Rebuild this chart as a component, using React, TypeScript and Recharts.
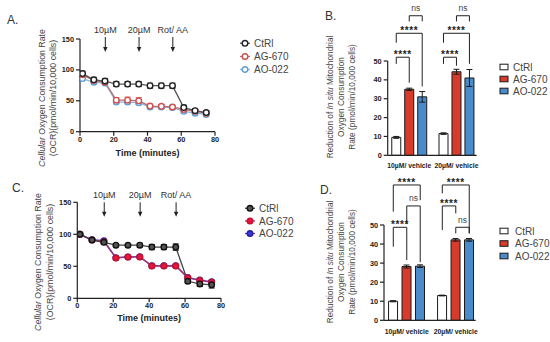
import React from "react";
import {
  LineChart,
  Line,
  BarChart,
  Bar,
  Cell,
  XAxis,
  YAxis,
  ErrorBar,
  ReferenceLine,
  ReferenceDot,
} from "recharts";

const FONT = "'Liberation Sans', Arial, sans-serif";

// ---- time course (A, C) ----
const times = [1.5, 8.2, 14.8, 21.5, 28.2, 34.8, 41.5, 48.2, 54.8, 61.5, 68.2, 74.8];
const seriesNames = ["CtRl", "AG-670", "AO-022"];

const aCtrl = [94, 84, 82, 77, 77, 77, 74.5, 74.5, 74.5, 39, 34, 31];
const aCtrlErr = [4, 4, 4, 4, 4, 4, 4, 4, 4, 4, 3, 3];
const aAg = [92, 83, 80, 51, 51, 50, 41.5, 41, 40, 36, 33, 30];
const aAgErr = [3, 3, 3, 4, 5, 5, 3, 3, 3, 3, 3, 3];
const aAo = [86, 80, 79, 48, 48, 47, 40, 40, 39, 33, 30, 28];
const aAoErr = [3, 3, 3, 3, 3, 3, 3, 3, 3, 3, 3, 3];

const cCtrl = [100, 91, 87.5, 83, 83, 83, 80, 80, 80, 26.6, 22.5, 21];
const cCtrlErr = [2, 2, 2, 2, 2, 3, 4, 4, 5, 3, 4, 5];
const cAg = [100, 91, 88.5, 63, 64.6, 64.6, 50.5, 50.5, 50.5, 32, 28, 25];
const cAgErr = [1.5, 1.5, 2, 2, 1.5, 1.5, 3, 2, 2, 2, 2, 2];
const cAo = [100, 91.5, 90, 63.5, 64.5, 65, 51, 51, 51, 32.5, 28.5, 26];
const cAoErr = [1.5, 1.5, 2, 2, 1.5, 1.5, 2, 2, 2, 2, 2, 2];

const injections = ["10µM", "20µM", "Rot/ AA"];
const injectionTimes = [15, 35, 55];

// ---- bar panels (B, D) ----
const groups = ["10µM/ vehicle", "20µM/ vehicle"];
const bCtrl = [9.5, 11.5];
const bCtrlErr = [0.5, 0.4];
const bAg = [35, 44.3];
const bAgErr = [0.6, 1.3];
const bAo = [31, 41];
const bAoErr = [2.8, 4.5];

const dCtrl = [10, 13];
const dCtrlErr = [0.3, 0.2];
const dAg = [28.2, 42.2];
const dAgErr = [0.8, 0.7];
const dAo = [28.4, 42.2];
const dAoErr = [0.7, 0.7];

// significance brackets: group, from series a to b, heights in axis units
const bBrackets = [
  { g: 0, a: 0, b: 1, y: 52, la: 48.5, lb: 38.5, t: "****" },
  { g: 0, a: 0, b: 2, y: 64.7, la: 59.7, lb: 36.5, t: "****" },
  { g: 0, a: 1, b: 2, y: 74, la: 71, lb: 71, t: "ns" },
  { g: 1, a: 0, b: 1, y: 52, la: 48.5, lb: 47.5, t: "****" },
  { g: 1, a: 0, b: 2, y: 64.7, la: 59.7, lb: 48.5, t: "****" },
  { g: 1, a: 1, b: 2, y: 74, la: 71, lb: 71, t: "ns" },
];
const dBrackets = [
  { g: 0, a: 0, b: 1, y: 48.8, la: 38.6, lb: 31.6, t: "****" },
  { g: 0, a: 1, b: 2, y: 60, la: 50.5, lb: 30.5, t: "ns" },
  { g: 0, a: 0, b: 2, y: 71, la: 57, lb: 63, t: "****" },
  { g: 1, a: 0, b: 2, y: 71, la: 66.6, lb: 45.6, t: "****" },
  { g: 1, a: 0, b: 1, y: 60, la: 47.4, lb: 56.1, t: "****" },
  { g: 1, a: 1, b: 2, y: 48.8, la: 45.6, lb: 45.6, t: "ns" },
];

const GROUP_STEP = 3.64;
const barColors = ["#ffffff", "#d63b2c", "#4a8ccb"];

const buildTime = (ctrl: number[], ce: number[], ag: number[], ge: number[], ao: number[], oe: number[]) =>
  times.map((t, i) => ({ t, ctrl: ctrl[i], ce: ce[i], ag: ag[i], ge: ge[i], ao: ao[i], oe: oe[i] }));

const buildBars = (vals: number[][], errs: number[][]) => {
  const rows: { x: number; v: number; e: number; s: number }[] = [];
  groups.forEach((_, g) => {
    vals.forEach((sv, s) => rows.push({ x: g * GROUP_STEP + s, v: sv[g], e: errs[s][g], s }));
  });
  return rows;
};

const aRows = buildTime(aCtrl, aCtrlErr, aAg, aAgErr, aAo, aAoErr);
const cRows = buildTime(cCtrl, cCtrlErr, cAg, cAgErr, cAo, cAoErr);
const bRows = buildBars([bCtrl, bAg, bAo], [bCtrlErr, bAgErr, bAoErr]);
const dRows = buildBars([dCtrl, dAg, dAo], [dCtrlErr, dAgErr, dAoErr]);

const tickStyle = { fill: "#222", fontSize: 7.3, fontWeight: 700, fontFamily: FONT };

const InjectionMark = ({ cx, cy, label, textDy, start, tip }: any) => (
  <g>
    <text x={cx} y={cy + textDy} textAnchor="middle" fontSize={9} fill="#333" fontFamily={FONT}>
      {label}
    </text>
    <line x1={cx} y1={cy + start} x2={cx} y2={cy + tip - 3} stroke="#222" strokeWidth={1} />
    <path d={`M${cx - 2.2},${cy + tip - 5} L${cx + 2.2},${cy + tip - 5} L${cx},${cy + tip} Z`} fill="#222" />
  </g>
);

type LineStyle = { line: string; mark: string; fill: string; opacity: number };

const TimeCourse = ({
  rows,
  width,
  height,
  margin,
  xHeight,
  titleOffset,
  styles,
  arrow,
}: {
  rows: any[];
  width: number;
  height: number;
  margin: any;
  xHeight: number;
  titleOffset: number;
  styles: LineStyle[];
  arrow: { textDy: number; start: number; tip: number };
}) => {
  const keys = [
    { k: "ao", e: "oe", st: styles[2] },
    { k: "ag", e: "ge", st: styles[1] },
    { k: "ctrl", e: "ce", st: styles[0] },
  ];
  return (
    <LineChart width={width} height={height} data={rows} margin={margin}>
      <XAxis
        type="number"
        dataKey="t"
        domain={[0, 80]}
        ticks={[0, 20, 40, 60, 80]}
        allowDataOverflow
        height={xHeight}
        tick={tickStyle}
        tickSize={4}
        tickMargin={1}
        stroke="#222"
        strokeWidth={1.2}
        label={{
          value: "Time (minutes)",
          position: "insideBottom",
          offset: titleOffset,
          style: { fill: "#222", fontSize: 9, fontWeight: 700, fontFamily: FONT },
        }}
      />
      <YAxis
        domain={[0, 150]}
        ticks={[0, 50, 100, 150]}
        allowDataOverflow
        width={20}
        tick={tickStyle}
        tickSize={4}
        tickMargin={2}
        stroke="#222"
        strokeWidth={1.2}
      />
      {keys.map(({ k, e, st }) => (
        <Line
          key={k}
          dataKey={k}
          stroke={st.line}
          strokeOpacity={st.opacity}
          strokeWidth={1.3}
          dot={{ r: 2.8, fill: st.fill, stroke: st.mark, strokeWidth: 1.4 }}
          isAnimationActive={false}
        >
          <ErrorBar dataKey={e} direction="y" width={3} stroke={st.mark} strokeWidth={1} />
        </Line>
      ))}
      {injections.map((label, i) => (
        <ReferenceDot
          key={label}
          x={injectionTimes[i]}
          y={150}
          ifOverflow="visible"
          shape={(p: any) => <InjectionMark {...p} label={label} {...arrow} />}
        />
      ))}
    </LineChart>
  );
};

const BracketText = ({ cx, cy, t }: any) =>
  t === "ns" ? (
    <text x={cx} y={cy - 4.6} textAnchor="middle" fontSize={8.5} fill="#444" fontFamily={FONT}>
      ns
    </text>
  ) : (
    <text x={cx} y={cy + 1} textAnchor="middle" fontSize={10} fontWeight={700} fill="#222" fontFamily={FONT} letterSpacing={0.6}>
      {t}
    </text>
  );

const GroupTick = ({ x, y, index, dy }: any) => (
  <text x={x} y={y + dy} textAnchor="middle" fontSize={6.8} fontWeight={700} fill="#222" fontFamily={FONT}>
    {groups[index]}
  </text>
);

const BarPanel = ({
  rows,
  brackets,
  width,
  height,
  margin,
  xHeight,
  domain,
  labelDy,
}: {
  rows: any[];
  brackets: typeof bBrackets;
  width: number;
  height: number;
  margin: any;
  xHeight: number;
  domain: number[];
  labelDy: number;
}) => (
  <BarChart width={width} height={height} data={rows} margin={margin}>
    <XAxis
      type="number"
      dataKey="x"
      domain={domain}
      allowDataOverflow
      ticks={[1, 1 + GROUP_STEP]}
      interval={0}
      height={xHeight}
      tick={(p: any) => <GroupTick {...p} dy={labelDy} />}
      tickSize={0}
      stroke="#222"
      strokeWidth={1.2}
    />
    <YAxis
      domain={[0, 50]}
      ticks={[0, 10, 20, 30, 40, 50]}
      allowDataOverflow
      width={20}
      tick={tickStyle}
      tickSize={4}
      tickMargin={2}
      stroke="#222"
      strokeWidth={1.2}
    />
    <Bar dataKey="v" barSize={9} stroke="#1a1a1a" strokeWidth={1} isAnimationActive={false}>
      {rows.map((r, i) => (
        <Cell key={i} fill={barColors[r.s]} />
      ))}
      <ErrorBar dataKey="e" direction="y" width={3} stroke="#1a1a1a" strokeWidth={1} />
    </Bar>
    {brackets.map((br, i) => {
      const xa = br.g * GROUP_STEP + br.a;
      const xb = br.g * GROUP_STEP + br.b;
      const seg = { stroke: "#222", strokeWidth: 1, ifOverflow: "visible" as const };
      return (
        <React.Fragment key={i}>
          <ReferenceLine segment={[{ x: xa, y: br.y }, { x: xb, y: br.y }]} {...seg} />
          <ReferenceLine segment={[{ x: xa, y: br.y }, { x: xa, y: br.la }]} {...seg} />
          <ReferenceLine segment={[{ x: xb, y: br.y }, { x: xb, y: br.lb }]} {...seg} />
          <ReferenceDot
            x={(xa + xb) / 2}
            y={br.y}
            ifOverflow="visible"
            shape={(p: any) => <BracketText {...p} t={br.t} />}
          />
        </React.Fragment>
      );
    })}
  </BarChart>
);

const RotLabel = ({ x, y, lines, size }: { x: number[]; y: number; lines: React.ReactNode[]; size: number }) => (
  <>
    {lines.map((ln, i) => (
      <text
        key={i}
        transform={`translate(${x[i]},${y}) rotate(-90)`}
        textAnchor="middle"
        fontSize={size}
        fill="#444"
        fontFamily={FONT}
      >
        {ln}
      </text>
    ))}
  </>
);

const LineLegend = ({ x, ys, styles }: { x: number; ys: number[]; styles: LineStyle[] }) => (
  <>
    {seriesNames.map((n, i) => (
      <g key={n}>
        <line x1={x} x2={x + 10} y1={ys[i]} y2={ys[i]} stroke={styles[i].line} strokeWidth={1.3} />
        <circle cx={x + 5} cy={ys[i]} r={2.8} fill={styles[i].fill} stroke={styles[i].mark} strokeWidth={1.4} />
        <text x={x + 14} y={ys[i] + 3.5} fontSize={10} fill="#444" fontFamily={FONT}>
          {n}
        </text>
      </g>
    ))}
  </>
);

const BarLegend = ({ x, ys, tx }: { x: number; ys: number[]; tx: number }) => (
  <>
    {seriesNames.map((n, i) => (
      <g key={n}>
        <rect x={x} y={ys[i] - 2.8} width={8} height={5.6} fill={barColors[i]} stroke="#1a1a1a" strokeWidth={1} />
        <text x={tx} y={ys[i] + 3.5} fontSize={10} fill="#444" fontFamily={FONT}>
          {n}
        </text>
      </g>
    ))}
  </>
);

const aStyles: LineStyle[] = [
  { line: "#555", mark: "#222", fill: "#ffffff", opacity: 1 },
  { line: "#b86a6a", mark: "#d0524f", fill: "#ffffff", opacity: 1 },
  { line: "#8db6dc", mark: "#5f9fd6", fill: "#ffffff", opacity: 1 },
];
const cStyles: LineStyle[] = [
  { line: "#444", mark: "#111", fill: "#555", opacity: 1 },
  { line: "#a0307e", mark: "#c8102e", fill: "#e8173a", opacity: 1 },
  { line: "#6a3aa8", mark: "#22229a", fill: "#3a3ad8", opacity: 1 },
];

const abs = (left: number, top: number): React.CSSProperties => ({ position: "absolute", left, top });

export default function App() {
  return (
    <div style={{ position: "absolute", left: 0, top: 0, width: 550, height: 342, background: "#fff", overflow: "hidden" }}>
      <div style={abs(0, 0)}>
        <TimeCourse
          rows={aRows}
          width={280}
          height={175}
          margin={{ top: 39, right: 65, bottom: 0, left: 60 }}
          xHeight={43.3}
          titleOffset={19}
          styles={aStyles}
          arrow={{ textDy: -6, start: -2, tip: 13 }}
        />
      </div>
      <div style={abs(0, 170)}>
        <TimeCourse
          rows={cRows}
          width={280}
          height={172}
          margin={{ top: 32.3, right: 59, bottom: 0, left: 57.3 }}
          xHeight={43.7}
          titleOffset={21.4}
          styles={cStyles}
          arrow={{ textDy: -4.3, start: 0, tip: 14.5 }}
        />
      </div>
      <div style={abs(280, 0)}>
        <BarPanel
          rows={bRows}
          brackets={bBrackets}
          width={270}
          height={175}
          margin={{ top: 61, right: 73.3, bottom: 0, left: 87.7 }}
          xHeight={19.7}
          domain={[-0.66, 6.2]}
          labelDy={11}
        />
      </div>
      <div style={abs(280, 170)}>
        <BarPanel
          rows={dRows}
          brackets={dBrackets}
          width={270}
          height={172}
          margin={{ top: 55, right: 74.3, bottom: 0, left: 84 }}
          xHeight={21.7}
          domain={[-0.69, 6.12]}
          labelDy={12}
        />
      </div>
      <svg width={550} height={342} style={{ position: "absolute", left: 0, top: 0, pointerEvents: "none" }}>
        <text x={7} y={24} fontSize={12} fill="#333" fontFamily={FONT}>A.</text>
        <text x={325} y={20} fontSize={12} fill="#333" fontFamily={FONT}>B.</text>
        <text x={12} y={192} fontSize={12} fill="#333" fontFamily={FONT}>C.</text>
        <text x={320} y={194} fontSize={12} fill="#333" fontFamily={FONT}>D.</text>

        <RotLabel
          x={[44.7, 55.7]}
          y={98}
          size={8.8}
          lines={[
            <>
              <tspan fontStyle="italic">Cellular</tspan> Oxygen Consumption Rate
            </>,
            "(OCR)(pmol/min/10,000 cells)",
          ]}
        />
        <RotLabel
          x={[41.3, 53]}
          y={262}
          size={8.8}
          lines={[
            <>
              <tspan fontStyle="italic">Cellular</tspan> Oxygen Consumption Rate
            </>,
            "(OCR)(pmol/min/10,000 cells)",
          ]}
        />
        {[97, 262].map((cy) => (
          <RotLabel
            key={cy}
            x={[333, 344, 354.7]}
            y={cy}
            size={8.3}
            lines={[
              <>
                Reduction of <tspan fontStyle="italic">In situ</tspan> Mitochondrial
              </>,
              "Oxygen Consumption",
              "Rate (pmol/min/10,000 cells)",
            ]}
          />
        ))}

        <LineLegend x={240} ys={[43.3, 56.5, 69.5]} styles={aStyles} />
        <LineLegend x={245} ys={[208.3, 221, 233.5]} styles={cStyles} />
        <BarLegend x={500} ys={[67, 79, 91]} tx={513} />
        <BarLegend x={500} ys={[231, 243.5, 256]} tx={515} />
      </svg>
    </div>
  );
}
